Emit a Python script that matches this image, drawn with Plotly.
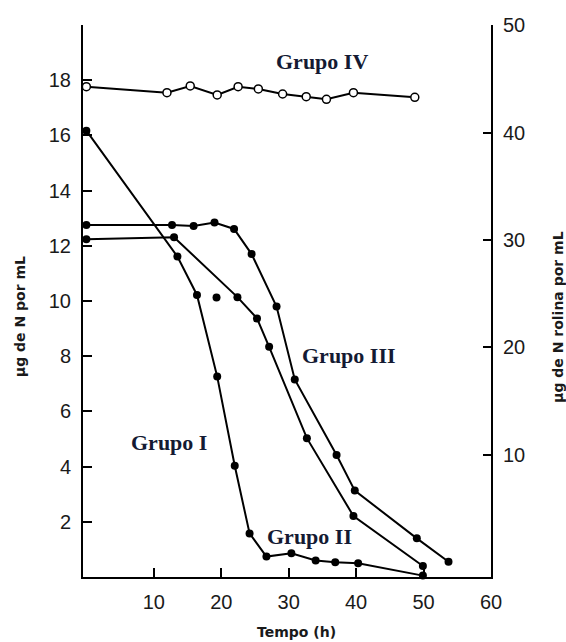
import plotly.graph_objects as go

# ---- data ----
time_I = [0, 13.5, 16.4, 19.4, 22.0, 24.2, 26.7, 30.4, 34.0, 36.9, 40.3, 49.9]
n_I = [16.17, 11.61, 10.22, 7.26, 4.03, 1.58, 0.74, 0.86, 0.60, 0.53, 0.50, 0.05]

time_II = [0, 13.0, 22.4, 25.3, 27.1, 32.7, 39.6, 49.9]
n_II = [12.24, 12.31, 10.14, 9.37, 8.34, 5.03, 2.21, 0.40]

time_III = [0, 12.7, 15.9, 19.0, 21.9, 24.5, 28.2, 30.9, 37.1, 39.8, 49.0, 53.7]
n_III = [12.75, 12.75, 12.72, 12.84, 12.61, 11.70, 9.80, 7.16, 4.42, 3.13, 1.40, 0.55]

time_IV = [0, 11.95, 15.4, 19.4, 22.5, 25.5, 29.1, 32.6, 35.6, 39.6, 48.7]
rolina_IV = [44.26, 43.70, 44.33, 43.49, 44.26, 44.05, 43.58, 43.33, 43.09, 43.70, 43.27]

stray_time = [19.3]
stray_n = [10.13]

x_ticks = [10, 20, 30, 40, 50, 60]
y_left_ticks = [2, 4, 6, 8, 10, 12, 14, 16, 18]
y_right_ticks = [10, 20, 30, 40, 50]

group_labels = ["Grupo I", "Grupo II", "Grupo III", "Grupo IV"]

# ---- figure ----
fig = go.Figure()

line_style = dict(color="black", width=2)
dot_style = dict(color="black", size=8)

for tx, ny, name in [(time_I, n_I, group_labels[0]),
                     (time_II, n_II, group_labels[1]),
                     (time_III, n_III, group_labels[2])]:
    fig.add_trace(go.Scatter(x=tx, y=ny, mode="lines+markers", name=name,
                             line=line_style, marker=dot_style,
                             cliponaxis=False, showlegend=False))

fig.add_trace(go.Scatter(x=stray_time, y=stray_n, mode="markers",
                         marker=dot_style, cliponaxis=False, showlegend=False))

fig.add_trace(go.Scatter(x=time_IV, y=rolina_IV, mode="lines+markers",
                         name=group_labels[3], yaxis="y2",
                         line=dict(color="black", width=2),
                         marker=dict(color="white", size=8,
                                     line=dict(color="black", width=1.5)),
                         cliponaxis=False, showlegend=False))

tick_font = dict(family="Liberation Sans, Arial, sans-serif", size=20, color="#1a1a1a")
title_font = dict(family="DejaVu Sans, sans-serif", size=14, color="#1a1a1a")
label_font = dict(family="Liberation Serif, Times New Roman, serif", size=22, color="#141a33")

fig.update_layout(
    width=566, height=642,
    margin=dict(l=83, r=75, t=25, b=65),
    paper_bgcolor="white", plot_bgcolor="white",
    xaxis=dict(range=[-0.5, 60], tickvals=x_ticks, ticks="inside", ticklen=9,
               tickwidth=2, tickcolor="black", showline=True, linecolor="black",
               linewidth=2, showgrid=False, zeroline=False, tickfont=tick_font,
               ticklabelstandoff=6),
    yaxis=dict(range=[0, 20], tickvals=y_left_ticks, ticks="inside", ticklen=9,
               tickwidth=2, tickcolor="black", showline=True, linecolor="black",
               linewidth=2, showgrid=False, zeroline=False, tickfont=tick_font,
               ticklabelstandoff=6),
    yaxis2=dict(range=[-1.35, 50], tickvals=y_right_ticks, overlaying="y",
                side="right", anchor="x", ticks="inside", ticklen=8,
                tickwidth=2, tickcolor="black", showline=True, linecolor="black",
                linewidth=2, showgrid=False, zeroline=False, tickfont=tick_font,
                ticklabelstandoff=6),
)

# group labels
label_pos = [(0.212, 0.243), (0.555, 0.0725), (0.653, 0.402), (0.585, 0.933)]
for text, (px, py) in zip(group_labels, label_pos):
    fig.add_annotation(x=px, y=py, xref="paper", yref="paper", text="<b>%s</b>" % text,
                       showarrow=False, font=label_font, xanchor="center", yanchor="middle")

# axis titles
fig.add_annotation(x=0.523, y=-0.0996, xref="paper", yref="paper", text="<b>Tempo (h)</b>",
                   showarrow=False, font=title_font, xanchor="center", yanchor="middle")
fig.add_annotation(x=-0.154, y=0.471, xref="paper", yref="paper", text="<b>µg de N por mL</b>",
                   showarrow=False, font=title_font, textangle=-90,
                   xanchor="center", yanchor="middle")
fig.add_annotation(x=1.164, y=0.471, xref="paper", yref="paper",
                   text="<b>µg de N rolina por mL</b>",
                   showarrow=False, font=title_font, textangle=-90,
                   xanchor="center", yanchor="middle")

fig.write_html("out.html")
